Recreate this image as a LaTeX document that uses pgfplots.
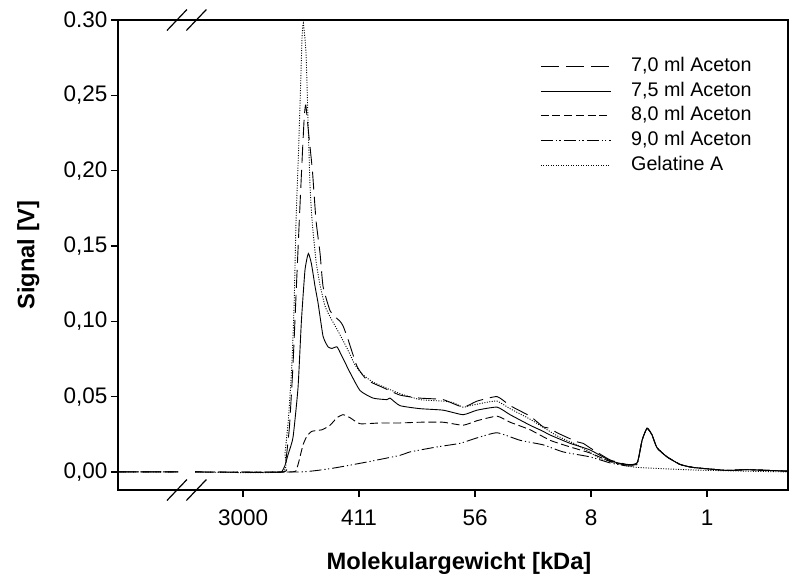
\documentclass[border=0pt]{standalone}
\usepackage{fontspec}
\setmainfont{Liberation Sans}
\usepackage{pgfplots}
\pgfplotsset{compat=1.18}
\begin{document}
\begin{tikzpicture}
\begin{axis}[
  at={(0,0)}, anchor=south west,
  scale only axis, width=670pt, height=470pt,
  xmin=-1.078, xmax=4.698, ymin=-0.012, ymax=0.30,
  xtick={0,1,2,3,4}, xticklabels={3000,411,56,8,1},
  ytick={0,0.05,0.10,0.15,0.20,0.25,0.30},
  yticklabels={{0,00},{0,05},{0,10},{0,15},{0,20},{0,25},{0.30}},
  scaled ticks=false,
  tick pos=left, tick align=outside, major tick length=7pt,
  minor tick num=0,
  axis line style={line width=1.2pt},
  every tick/.style={black, line width=1.2pt},
  tick label style={font=\fontsize{22.5}{27}\selectfont},
  xticklabel style={yshift=-9pt},
  xlabel={Molekulargewicht [kDa]}, ylabel={Signal [V]},
  label style={font=\fontsize{23.7}{28}\selectfont\bfseries},
  xlabel style={at={(axis description cs:0.509,-0.170)}, anchor=base},
  ylabel style={at={(axis description cs:-0.134,0.5)}, anchor=center},
  unbounded coords=jump, clip=false,
  every axis plot/.append style={smooth, tension=0.3},
  legend style={at={(rel axis cs:0.630,0.921)}, anchor=north west, draw=none, fill=none,
    font=\fontsize{19.7}{24}\selectfont, row sep=6.7pt, inner sep=0pt,
    nodes={inner sep=0pt, text height=14pt, text depth=4pt}},
  legend image code/.code={\draw[#1, sharp plot] (0pt,0pt) -- (70pt,0pt); \path (90pt,0pt);},
  legend cell align=left,
]
% 7,0 ml Aceton
\addplot[black, line width=0.9pt, dash pattern=on 18pt off 7pt] coordinates {
(-1.078,0) (-0.56,0) (-0.5,nan) (-0.414,0) (0.345,0) (0.37,0.008) (0.40,0.030) (0.43,0.070)
(0.46,0.123) (0.485,0.167) (0.512,0.212) (0.528,0.236) (0.541,0.2435) (0.569,0.222) (0.598,0.200)
(0.629,0.167) (0.664,0.145) (0.690,0.123) (0.750,0.107) (0.793,0.103) (0.836,0.100) (0.862,0.097)
(0.905,0.088) (0.983,0.070) (1.069,0.061) (1.207,0.056) (1.353,0.051) (1.526,0.049) (1.724,0.048)
(1.897,0.043) (2.017,0.047) (2.190,0.050) (2.302,0.044) (2.474,0.037) (2.586,0.030) (2.647,0.029)
(2.707,0.026) (2.879,0.020) (2.931,0.019) (2.991,0.016) (3.164,0.008) (3.310,0.005) (3.397,0.006)
(3.440,0.021) (3.483,0.029) (3.526,0.0245) (3.569,0.016) (3.655,0.010) (3.767,0.005) (3.879,0.003)
(4.172,0.001) (4.345,0.0015) (4.698,0.0005)};
\addlegendentry{7,0 ml Aceton}
% 7,5 ml Aceton
\addplot[black, line width=0.9pt] coordinates {
(0.25,0) (0.33,0) (0.36,0.004) (0.39,0.012) (0.431,0.023)
(0.474,0.056) (0.503,0.100) (0.534,0.134) (0.563,0.145) (0.59,0.138) (0.621,0.123) (0.647,0.112)
(0.690,0.090) (0.733,0.083) (0.767,0.082) (0.810,0.083) (0.845,0.078) (0.922,0.066) (1.009,0.054)
(1.121,0.049) (1.241,0.048) (1.267,0.049) (1.353,0.044) (1.526,0.042) (1.724,0.041) (1.897,0.038)
(2.017,0.041) (2.190,0.043) (2.302,0.038) (2.474,0.031) (2.586,0.027) (2.647,0.0245) (2.819,0.019)
(2.991,0.0146) (3.164,0.0075) (3.310,0.0048) (3.397,0.006) (3.440,0.021) (3.483,0.029) (3.526,0.0245)
(3.569,0.016) (3.655,0.010) (3.767,0.005) (3.879,0.003) (4.172,0.001) (4.345,0.0015) (4.698,0.0005)};
\addlegendentry{7,5 ml Aceton}
% 8,0 ml Aceton
\addplot[black, line width=0.9pt, dash pattern=on 8pt off 3.7pt] coordinates {
(-1.078,0) (-0.56,0) (-0.5,nan) (-0.414,0) (0.414,0) (0.466,0.003) (0.491,0.010) (0.517,0.018)
(0.552,0.024) (0.595,0.027) (0.681,0.028) (0.750,0.031) (0.810,0.036) (0.862,0.038) (0.922,0.036)
(1.009,0.032) (1.181,0.0325) (1.353,0.0325) (1.526,0.033) (1.724,0.033) (1.897,0.031) (2.017,0.034)
(2.190,0.037) (2.302,0.033) (2.474,0.028) (2.647,0.021) (2.819,0.0166) (2.991,0.0126) (3.164,0.007)
(3.310,0.0045) (3.397,0.0055) (3.440,0.021) (3.483,0.029) (3.526,0.0245) (3.569,0.016) (3.655,0.010)
(3.767,0.005) (3.879,0.003) (4.172,0.001) (4.345,0.0015) (4.698,0.0005)};
\addlegendentry{8,0 ml Aceton}
% 9,0 ml Aceton
\addplot[black, line width=0.9pt, dash pattern=on 12pt off 3pt on 1.2pt off 2.5pt on 1.2pt off 3pt] coordinates {
(-1.078,0) (-0.56,0) (-0.5,nan) (-0.414,0) (0.491,0) (0.776,0.0025) (1.069,0.0066) (1.353,0.011)
(1.440,0.0133) (1.672,0.0166) (1.871,0.019) (2.017,0.0226) (2.190,0.026) (2.388,0.021) (2.586,0.018)
(2.759,0.0133) (2.991,0.010) (3.164,0.006) (3.310,0.004) (3.397,0.005) (3.440,0.021) (3.483,0.029)
(3.526,0.0245) (3.569,0.016) (3.655,0.010) (3.767,0.005) (3.879,0.003) (4.172,0.001) (4.345,0.0015)
(4.698,0.0005)};
\addlegendentry{9,0 ml Aceton}
% Gelatine A
\addplot[black, line width=0.9pt, dash pattern=on 1pt off 1.5pt] coordinates {
(-1.078,0) (-0.56,0) (-0.5,nan) (-0.414,0) (0.334,0) (0.362,0.013) (0.391,0.035) (0.420,0.070)
(0.440,0.110) (0.457,0.167) (0.478,0.212) (0.496,0.256) (0.509,0.289) (0.520,0.298) (0.543,0.278)
(0.560,0.234) (0.578,0.189) (0.595,0.167) (0.629,0.140) (0.664,0.124) (0.707,0.110) (0.750,0.103)
(0.793,0.097) (0.836,0.091) (0.897,0.082) (0.966,0.071) (1.026,0.065) (1.112,0.060) (1.224,0.056)
(1.353,0.052) (1.526,0.048) (1.724,0.047) (1.810,0.046) (1.897,0.043) (1.957,0.044) (2.086,0.046)
(2.190,0.047) (2.302,0.042) (2.474,0.035) (2.707,0.024) (2.879,0.018) (2.991,0.013) (3.078,0.009)
(3.250,0.005) (3.397,0.003) (3.879,0.0013) (4.345,0.0005) (4.698,0)};
\addlegendentry{Gelatine A}
% axis break marks
\draw[line width=1.2pt] ([shift={(-10pt,-10.5pt)}]rel axis cs:0.088,1) -- ++(20pt,21pt);
\draw[line width=1.2pt] ([shift={(-10pt,-10.5pt)}]rel axis cs:0.117,1) -- ++(20pt,21pt);
\draw[line width=1.2pt] ([shift={(-10pt,-10.5pt)}]rel axis cs:0.088,0) -- ++(20pt,21pt);
\draw[line width=1.2pt] ([shift={(-10pt,-10.5pt)}]rel axis cs:0.117,0) -- ++(20pt,21pt);
\end{axis}
\pgfresetboundingbox
\path[use as bounding box] (-118pt,-89pt) rectangle (671pt,490pt);
\end{tikzpicture}
\end{document}
